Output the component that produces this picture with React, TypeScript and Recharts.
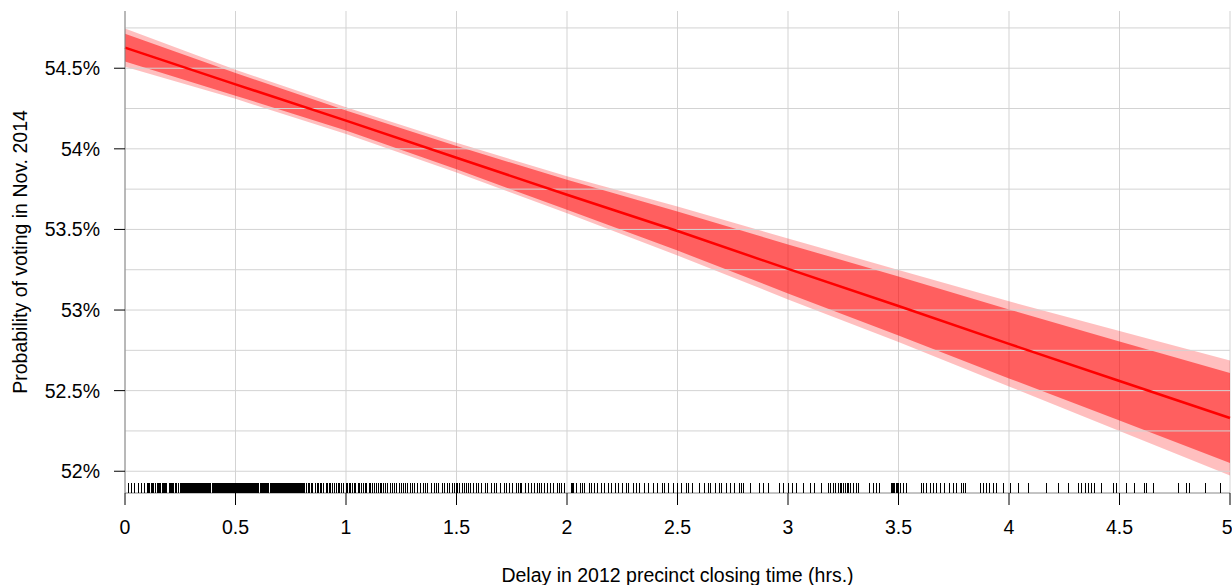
import {
  ComposedChart, Area, Line, Scatter, XAxis, YAxis, CartesianGrid, ReferenceLine,
} from "recharts";

// predicted turnout vs. closing-time delay
const X_VALUES = [0, 0.5, 1, 1.5, 2, 2.5, 3, 3.5, 4, 4.5, 5];
const FIT = [54.628, 54.4, 54.175, 53.945, 53.715, 53.49, 53.255, 53.025, 52.79, 52.56, 52.33];
const INNER_LO = [54.542, 54.33, 54.113, 53.873, 53.622, 53.369, 53.103, 52.842, 52.576, 52.315, 52.051];
const INNER_HI = [54.714, 54.47, 54.237, 54.017, 53.808, 53.611, 53.407, 53.208, 53.004, 52.805, 52.609];
const OUTER_LO = [54.509, 54.31, 54.092, 53.853, 53.6, 53.338, 53.066, 52.801, 52.526, 52.25, 51.973];
const OUTER_HI = [54.747, 54.49, 54.258, 54.037, 53.83, 53.642, 53.444, 53.249, 53.054, 52.87, 52.687];

const X_TICKS = [0, 0.5, 1, 1.5, 2, 2.5, 3, 3.5, 4, 4.5, 5];
const Y_TICKS = [52, 52.5, 53, 53.5, 54, 54.5];
const Y_GRID = [52, 52.25, 52.5, 52.75, 53, 53.25, 53.5, 53.75, 54, 54.25, 54.5, 54.75];
const Y_MIN = 51.865;
const Y_MAX = 54.855;

// rug of observed delays (hrs.)
const RUG = [
  0.015, 0.03, 0.045, 0.06, 0.075, 0.09,
  0.1, 0.105, 0.11, 0.12, 0.125, 0.13, 0.14, 0.145, 0.15, 0.155, 0.16, 0.17, 0.175, 0.18,
  0.185, 0.19, 0.2, 0.205, 0.21, 0.215, 0.22, 0.23, 0.235, 0.24, 0.25, 0.255,
  0.26, 0.264, 0.268, 0.272, 0.276, 0.28, 0.284, 0.288, 0.292, 0.296, 0.3, 0.304, 0.308,
  0.312, 0.316, 0.32, 0.324, 0.328, 0.332, 0.336, 0.34, 0.344, 0.351, 0.355, 0.359, 0.363,
  0.367, 0.371, 0.375, 0.379, 0.383, 0.387, 0.396, 0.4, 0.404, 0.408, 0.412, 0.416, 0.42,
  0.424, 0.428, 0.432, 0.436, 0.44, 0.444, 0.448, 0.452, 0.456, 0.46, 0.464, 0.468, 0.472,
  0.476, 0.48, 0.484, 0.488, 0.492, 0.496, 0.5, 0.504, 0.508, 0.512, 0.516, 0.52, 0.524,
  0.528, 0.532, 0.536, 0.54, 0.544, 0.548, 0.552, 0.556, 0.56, 0.564, 0.568, 0.572, 0.576,
  0.58, 0.584, 0.588, 0.592, 0.596, 0.6, 0.604, 0.615, 0.619, 0.623, 0.627, 0.631, 0.635,
  0.639, 0.643, 0.647, 0.651, 0.66, 0.664, 0.668, 0.672, 0.676, 0.68, 0.684, 0.688, 0.692,
  0.696, 0.7, 0.704, 0.708, 0.712, 0.716, 0.72, 0.724, 0.728, 0.732, 0.736, 0.74, 0.744,
  0.748, 0.752, 0.756, 0.76, 0.764, 0.768, 0.772, 0.776, 0.78, 0.784, 0.788, 0.792, 0.796,
  0.8, 0.804, 0.808, 0.812,
  0.82, 0.83, 0.835, 0.845, 0.85, 0.86, 0.87, 0.875, 0.885, 0.89, 0.9, 0.91, 0.915, 0.925,
  0.93, 0.94, 0.95, 0.955, 0.965, 0.97, 0.98, 0.99, 1.0, 1.005, 1.015, 1.02, 1.03, 1.04,
  1.045, 1.055, 1.06, 1.07, 1.08, 1.09, 1.095, 1.105, 1.11, 1.12, 1.13, 1.14, 1.145, 1.155,
  1.16, 1.17, 1.18, 1.19, 1.2, 1.21, 1.22, 1.23, 1.24, 1.25, 1.26, 1.27, 1.28, 1.29, 1.3,
  1.31, 1.325, 1.335, 1.35, 1.36, 1.37, 1.385, 1.4, 1.41, 1.42, 1.435, 1.445, 1.46, 1.47,
  1.48, 1.49, 1.5, 1.505, 1.515, 1.525, 1.535, 1.545, 1.555, 1.565, 1.575, 1.59, 1.6, 1.615,
  1.63, 1.64, 1.66, 1.67, 1.68, 1.7, 1.715, 1.725, 1.74, 1.755, 1.77, 1.78, 1.79, 1.795,
  1.81, 1.825, 1.84, 1.855, 1.865, 1.875, 1.885, 1.9, 1.91, 1.925, 1.94, 1.955, 1.965, 1.975, 1.99,
  2.02, 2.025, 2.03, 2.045, 2.06, 2.07, 2.08, 2.1, 2.11, 2.125, 2.14, 2.155, 2.17, 2.19,
  2.2, 2.22, 2.235, 2.25, 2.27, 2.28, 2.3, 2.315, 2.33, 2.35, 2.37, 2.39, 2.41, 2.43, 2.44,
  2.46, 2.48, 2.5, 2.52, 2.54, 2.55, 2.57, 2.6, 2.62, 2.64, 2.65, 2.67, 2.69, 2.7, 2.72,
  2.74, 2.76, 2.78, 2.79, 2.8, 2.83, 2.87, 2.89, 2.91, 2.96, 2.98, 3.0, 3.02, 3.04, 3.07,
  3.1, 3.12, 3.152, 3.182, 3.193, 3.205, 3.217, 3.228, 3.238, 3.243, 3.25, 3.258, 3.262,
  3.268, 3.273, 3.281, 3.296, 3.311, 3.318, 3.371, 3.386, 3.401, 3.416, 3.469, 3.473,
  3.479, 3.484, 3.489, 3.494, 3.499, 3.507, 3.522, 3.537, 3.605, 3.615, 3.627, 3.643,
  3.658, 3.673, 3.688, 3.71, 3.733, 3.748, 3.763, 3.786, 3.793, 3.801, 3.869, 3.884,
  3.899, 3.914, 3.929, 3.944, 3.974, 4.005, 4.042, 4.088, 4.17, 4.223, 4.268, 4.314,
  4.329, 4.344, 4.359, 4.374, 4.389, 4.419, 4.472, 4.487, 4.532, 4.57, 4.615, 4.623,
  4.653, 4.766, 4.804, 4.819, 4.887, 4.955,
];

const FONT = "'Liberation Sans', Arial, sans-serif";
const FS = 19.5;

const data = X_VALUES.map((x, i) => ({
  x,
  fit: FIT[i],
  outer: [OUTER_LO[i], OUTER_HI[i]],
  inner: [INNER_LO[i], INNER_HI[i]],
}));
const rugData = RUG.map((x) => ({ x, y: Y_MIN }));

const fmtX = (v: number) => String(v);
const fmtY = (v: number) => `${v}%`;

const RugTick = (props: any) => (
  <line
    x1={props.cx}
    x2={props.cx}
    y1={props.cy - 10}
    y2={props.cy}
    stroke="#000"
    strokeWidth={1}
    shapeRendering="crispEdges"
  />
);

export default function App() {
  return (
    <div style={{ position: "absolute", left: 0, top: 0, background: "#fff" }}>
      <ComposedChart
        width={1232}
        height={585}
        data={data}
        margin={{ top: 11, right: 2, bottom: 0, left: 0 }}
      >
        <CartesianGrid horizontal={false} stroke="#d3d3d3" strokeWidth={1} />
        {Y_GRID.map((v) => (
          <ReferenceLine key={v} y={v} stroke="#d3d3d3" strokeWidth={1} />
        ))}
        <XAxis
          dataKey="x"
          type="number"
          domain={[0, 5]}
          ticks={X_TICKS}
          tickFormatter={fmtX}
          height={92}
          tickSize={12}
          tickMargin={15}
          stroke="#888"
          tickLine={{ stroke: "#000" }}
          tick={{ fill: "#000", fontSize: FS, fontFamily: FONT }}
          label={{
            content: (p: any) => (
              <text
                x={p.viewBox.x + p.viewBox.width / 2}
                y={p.viewBox.y + 89}
                textAnchor="middle"
                fontSize={FS}
                fontFamily={FONT}
                fill="#000"
              >
                Delay in 2012 precinct closing time (hrs.)
              </text>
            ),
          }}
        />
        <YAxis
          type="number"
          domain={[Y_MIN, Y_MAX]}
          ticks={Y_TICKS}
          tickFormatter={fmtY}
          width={125}
          tickSize={11}
          tickMargin={14}
          stroke="#888"
          tickLine={{ stroke: "#000" }}
          tick={{ fill: "#000", fontSize: FS, fontFamily: FONT }}
          allowDataOverflow
          label={{
            content: (p: any) => {
              const cx = p.viewBox.x + 20;
              const cy = p.viewBox.y + p.viewBox.height / 2;
              return (
                <text
                  x={cx}
                  y={cy}
                  transform={`rotate(-90 ${cx} ${cy})`}
                  textAnchor="middle"
                  dominantBaseline="central"
                  fontSize={FS}
                  fontFamily={FONT}
                  fill="#000"
                >
                  Probability of voting in Nov. 2014
                </text>
              );
            },
          }}
        />
        <Area
          type="linear"
          dataKey="outer"
          stroke="none"
          fill="#ff0000"
          fillOpacity={0.25}
          isAnimationActive={false}
        />
        <Area
          type="linear"
          dataKey="inner"
          stroke="none"
          fill="#ff0000"
          fillOpacity={0.5}
          isAnimationActive={false}
        />
        <Line
          type="linear"
          dataKey="fit"
          stroke="#ff0000"
          strokeWidth={2.5}
          dot={false}
          isAnimationActive={false}
        />
        <Scatter data={rugData} dataKey="y" shape={RugTick} isAnimationActive={false} />
      </ComposedChart>
    </div>
  );
}
